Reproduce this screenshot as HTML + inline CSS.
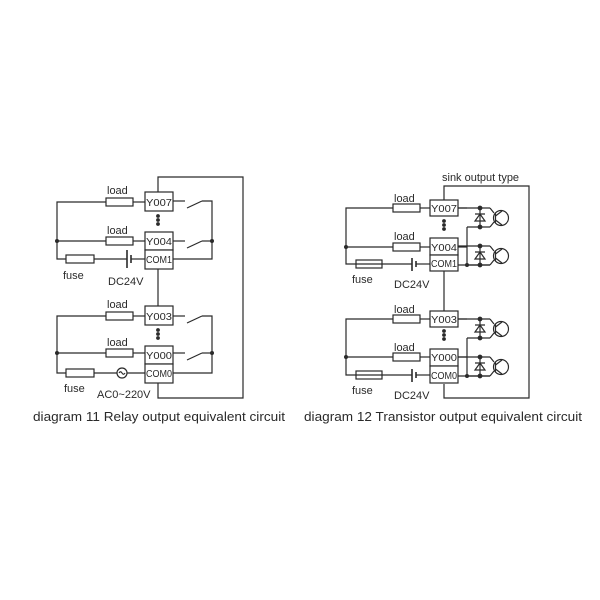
<!DOCTYPE html>
<html><head><meta charset="utf-8"><style>
html,body{margin:0;padding:0;background:#fff;}
svg{display:block;}
text{font-family:"Liberation Sans",sans-serif;fill:#2a2a2a;}
</style></head><body>
<svg width="600" height="600" viewBox="0 0 600 600" xmlns="http://www.w3.org/2000/svg">
<g stroke="#2a2a2a" stroke-width="1.2" fill="none">
<!-- LEFT DIAGRAM -->
<polyline points="158,192 158,177 243,177 243,398 158,398 158,383"/>
<line x1="158" y1="269" x2="158" y2="306"/>
<rect x="145" y="192" width="28" height="19" fill="#fff"/>
<rect x="145" y="232" width="28" height="18" fill="#fff"/>
<rect x="145" y="250" width="28" height="19" fill="#fff"/>
<rect x="145" y="306" width="28" height="19" fill="#fff"/>
<rect x="145" y="346" width="28" height="18" fill="#fff"/>
<rect x="145" y="364" width="28" height="19" fill="#fff"/>
<polyline points="106,202 57,202 57,259 66,259"/>
<line x1="133" y1="202" x2="145" y2="202"/>
<line x1="57" y1="241" x2="106" y2="241"/>
<line x1="133" y1="241" x2="145" y2="241"/>
<line x1="94" y1="259" x2="127" y2="259"/>
<line x1="131" y1="259" x2="145" y2="259"/>
<rect x="106" y="198" width="27" height="8"/>
<rect x="106" y="237" width="27" height="8"/>
<rect x="66" y="255" width="28" height="8"/>
<line x1="127" y1="250" x2="127" y2="268" stroke-width="1.6"/>
<line x1="131" y1="255" x2="131" y2="263" stroke-width="1.6"/>
<line x1="173" y1="201" x2="185" y2="201"/>
<line x1="187" y1="208" x2="202" y2="201"/>
<polyline points="202,201 212,201 212,259 173,259"/>
<line x1="173" y1="241" x2="185" y2="241"/>
<line x1="187" y1="248" x2="202" y2="241"/>
<line x1="202" y1="241" x2="212" y2="241"/>
<polyline points="106,316 57,316 57,373 66,373"/>
<line x1="133" y1="316" x2="145" y2="316"/>
<line x1="57" y1="353" x2="106" y2="353"/>
<line x1="133" y1="353" x2="145" y2="353"/>
<line x1="94" y1="373" x2="117" y2="373"/>
<line x1="127" y1="373" x2="145" y2="373"/>
<rect x="106" y="312" width="27" height="8"/>
<rect x="106" y="349" width="27" height="8"/>
<rect x="66" y="369" width="28" height="8"/>
<circle cx="122" cy="373" r="5"/>
<path d="M119,373 q1.5,-2.5 3,0 t3,0"/>
<line x1="173" y1="316" x2="185" y2="316"/>
<line x1="187" y1="323" x2="202" y2="316"/>
<polyline points="202,316 212,316 212,373 173,373"/>
<line x1="173" y1="353" x2="185" y2="353"/>
<line x1="187" y1="360" x2="202" y2="353"/>
<line x1="202" y1="353" x2="212" y2="353"/>

<!-- RIGHT DIAGRAM -->
<polyline points="444,203 444,186 529,186 529,398 444,398 444,384"/>
<line x1="444" y1="270" x2="444" y2="313"/>
<rect x="430" y="200" width="28" height="16" fill="#fff"/>
<rect x="430" y="238" width="28" height="17" fill="#fff"/>
<rect x="430" y="255" width="28" height="16" fill="#fff"/>
<rect x="430" y="311" width="28" height="16" fill="#fff"/>
<rect x="430" y="349" width="28" height="17" fill="#fff"/>
<rect x="430" y="366" width="28" height="17" fill="#fff"/>
<polyline points="393,208 346,208 346,264 356,264"/>
<line x1="420" y1="208" x2="430" y2="208"/>
<line x1="346" y1="247" x2="393" y2="247"/>
<line x1="420" y1="247" x2="430" y2="247"/>
<line x1="356" y1="264" x2="412" y2="264"/>
<line x1="416" y1="264" x2="430" y2="264"/>
<rect x="393" y="204" width="27" height="8"/>
<rect x="393" y="243" width="27" height="8"/>
<rect x="356" y="260" width="26" height="8"/>
<line x1="412" y1="258" x2="412" y2="271" stroke-width="1.6"/>
<line x1="416" y1="261" x2="416" y2="267" stroke-width="1.6"/>
<polyline points="393,319 346,319 346,375 356,375"/>
<line x1="420" y1="319" x2="430" y2="319"/>
<line x1="346" y1="357" x2="393" y2="357"/>
<line x1="420" y1="357" x2="430" y2="357"/>
<line x1="356" y1="375" x2="412" y2="375"/>
<line x1="416" y1="375" x2="430" y2="375"/>
<rect x="393" y="315" width="27" height="8"/>
<rect x="393" y="353" width="27" height="8"/>
<rect x="356" y="371" width="26" height="8"/>
<line x1="412" y1="369" x2="412" y2="382" stroke-width="1.6"/>
<line x1="416" y1="372" x2="416" y2="378" stroke-width="1.6"/>
</g>

<defs>
<g id="tu" stroke="#2a2a2a" stroke-width="1.2" fill="none">
<line x1="0" y1="0" x2="32" y2="0"/>
<line x1="9" y1="19" x2="32" y2="19"/>
<line x1="22" y1="0" x2="22" y2="19"/>
<path d="M17,6 h10 M17,13 l5,-7 l5,7 z"/>
<path d="M32,0 l4,5 M32,19 l4,-5"/>
<circle cx="43" cy="10" r="7.5"/>
<line x1="37.5" y1="5.5" x2="37.5" y2="14.5"/>
<path d="M37.5,8 l6.5,-5 M37.5,12 l6.5,5"/>
<circle cx="22" cy="0" r="1.8" fill="#2a2a2a"/>
<circle cx="22" cy="19" r="1.8" fill="#2a2a2a"/>
</g>
</defs>
<g stroke="#2a2a2a" stroke-width="1.2" fill="none">
<line x1="458" y1="208" x2="467" y2="208"/>
<line x1="458" y1="247" x2="467" y2="247"/>
<line x1="458" y1="319" x2="467" y2="319"/>
<line x1="458" y1="357" x2="467" y2="357"/>
<line x1="467" y1="227" x2="467" y2="265"/>
<line x1="467" y1="338" x2="467" y2="376"/>
<line x1="458" y1="265" x2="490" y2="265"/>
<line x1="458" y1="376" x2="490" y2="376"/>
</g>
<use href="#tu" x="458" y="208"/>
<use href="#tu" x="458" y="246"/>
<use href="#tu" x="458" y="319"/>
<use href="#tu" x="458" y="357"/>

<g fill="#2a2a2a">
<circle cx="57" cy="241" r="2"/><circle cx="212" cy="241" r="2"/>
<circle cx="57" cy="353" r="2"/><circle cx="212" cy="353" r="2"/>
<circle cx="158" cy="216" r="1.9"/><circle cx="158" cy="220" r="1.9"/><circle cx="158" cy="224" r="1.9"/>
<circle cx="158" cy="330" r="1.9"/><circle cx="158" cy="334" r="1.9"/><circle cx="158" cy="338" r="1.9"/>
<circle cx="346" cy="247" r="2"/><circle cx="346" cy="357" r="2"/>
<circle cx="467" cy="265" r="2"/><circle cx="467" cy="376" r="2"/>
<circle cx="444" cy="221" r="1.9"/><circle cx="444" cy="225" r="1.9"/><circle cx="444" cy="229" r="1.9"/>
<circle cx="444" cy="331" r="1.9"/><circle cx="444" cy="335" r="1.9"/><circle cx="444" cy="339" r="1.9"/>
</g>

<g font-size="11">
<text x="107" y="194">load</text>
<text x="107" y="234">load</text>
<text x="107" y="308">load</text>
<text x="107" y="346">load</text>
<text x="63" y="279">fuse</text>
<text x="108" y="285">DC24V</text>
<text x="64" y="392">fuse</text>
<text x="97" y="398">AC0~220V</text>
<text x="394" y="202">load</text>
<text x="394" y="240">load</text>
<text x="394" y="313">load</text>
<text x="394" y="351">load</text>
<text x="352" y="283">fuse</text>
<text x="394" y="288">DC24V</text>
<text x="352" y="394">fuse</text>
<text x="394" y="399">DC24V</text>
<text x="442" y="181">sink output type</text>
</g>
<g font-size="10">
<text x="146" y="206" textLength="26" lengthAdjust="spacingAndGlyphs">Y007</text>
<text x="146" y="245" textLength="26" lengthAdjust="spacingAndGlyphs">Y004</text>
<text x="146" y="263" textLength="26" lengthAdjust="spacingAndGlyphs">COM1</text>
<text x="146" y="320" textLength="26" lengthAdjust="spacingAndGlyphs">Y003</text>
<text x="146" y="359" textLength="26" lengthAdjust="spacingAndGlyphs">Y000</text>
<text x="146" y="377" textLength="26" lengthAdjust="spacingAndGlyphs">COM0</text>
<text x="431" y="212" textLength="26" lengthAdjust="spacingAndGlyphs">Y007</text>
<text x="431" y="251" textLength="26" lengthAdjust="spacingAndGlyphs">Y004</text>
<text x="431" y="267" textLength="26" lengthAdjust="spacingAndGlyphs">COM1</text>
<text x="431" y="323" textLength="26" lengthAdjust="spacingAndGlyphs">Y003</text>
<text x="431" y="361" textLength="26" lengthAdjust="spacingAndGlyphs">Y000</text>
<text x="431" y="379" textLength="26" lengthAdjust="spacingAndGlyphs">COM0</text>
</g>
<g font-size="13">
<text x="33" y="421" textLength="252" lengthAdjust="spacingAndGlyphs">diagram 11 Relay output equivalent circuit</text>
<text x="304" y="421" textLength="278" lengthAdjust="spacingAndGlyphs">diagram 12 Transistor output equivalent circuit</text>
</g>
</svg>
</body></html>
